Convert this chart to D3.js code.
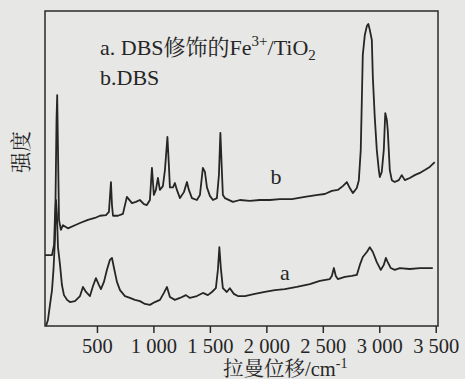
<!DOCTYPE html>
<html>
<head>
<meta charset="utf-8">
<script src="https://cdn.jsdelivr.net/npm/d3@7"></script>
<style>
  html, body { margin: 0; padding: 0; background: #e7e7e5; }
  svg { display: block; }
  text { font-family: "Liberation Serif", "Times New Roman", "Noto Serif CJK SC", serif; fill: #262626; }
</style>
</head>
<body>
<svg id="chart"></svg>
<script>
// Raman shift (cm-1) and intensity (a.u.)
const shiftB = [40, 102, 120, 133, 142, 148, 155, 164, 181, 199, 243, 305, 350, 420, 482, 527, 580, 606, 624, 633, 642, 686, 730, 765, 810, 845, 880, 916, 942, 969, 987, 1004, 1022, 1040, 1057, 1084, 1102, 1124, 1137, 1146, 1173, 1190, 1208, 1235, 1270, 1297, 1314, 1341, 1385, 1412, 1438, 1456, 1474, 1500, 1527, 1562, 1580, 1593, 1606, 1615, 1633, 1704, 1766, 1854, 1943, 2031, 2120, 2226, 2341, 2456, 2518, 2580, 2633, 2677, 2713, 2739, 2766, 2801, 2819, 2836, 2845, 2854, 2872, 2890, 2903, 2916, 2934, 2943, 2960, 2978, 2996, 3005, 3022, 3040, 3053, 3067, 3075, 3093, 3111, 3137, 3173, 3199, 3226, 3270, 3314, 3359, 3403, 3447, 3491];
const intensityB = [22.5, 22.5, 25.7, 40, 65.4, 73.3, 55.9, 33.7, 30.5, 32, 31, 32, 32.7, 33.7, 34.3, 35, 35.2, 36.2, 45.7, 38.4, 35, 35, 35.6, 41, 39, 39.4, 40, 38.7, 38.4, 40, 50.2, 41.6, 43.2, 47, 43.2, 44.4, 49.5, 60, 51, 44, 44, 45.4, 43.2, 40.6, 42.5, 45.7, 43.2, 40.6, 40, 41.6, 50.2, 48.9, 44, 41.3, 40, 40.6, 47.9, 61.3, 49.5, 41.6, 40.6, 39.4, 40, 39.7, 40, 40, 40.3, 40.3, 41, 41.6, 41.9, 42.9, 43.2, 44.4, 45.7, 43.8, 42.2, 43.8, 46.3, 55.9, 70.8, 86, 92.4, 95.2, 95.9, 94, 90.8, 79, 66.3, 55.9, 49.5, 47.3, 48.9, 55.9, 67.6, 65.4, 62.2, 49.5, 46.3, 45.7, 46.3, 47.9, 46.3, 47, 47.9, 48.6, 49.5, 50.5, 52];

const shiftA = [49, 66, 84, 102, 115, 128, 137, 146, 155, 173, 190, 208, 235, 261, 305, 350, 376, 403, 438, 465, 491, 518, 535, 562, 588, 615, 633, 651, 677, 704, 748, 792, 836, 881, 925, 969, 1013, 1058, 1093, 1120, 1146, 1190, 1235, 1288, 1323, 1385, 1438, 1482, 1518, 1553, 1571, 1584, 1597, 1615, 1650, 1677, 1712, 1748, 1810, 1898, 1987, 2075, 2164, 2270, 2385, 2474, 2562, 2580, 2598, 2615, 2633, 2695, 2757, 2801, 2828, 2854, 2890, 2916, 2943, 2978, 3013, 3040, 3058, 3075, 3102, 3137, 3182, 3270, 3359, 3474];
const intensityA = [0, 1.9, 6.7, 11.4, 17.8, 27.3, 40, 35.2, 25, 19.4, 13, 9.8, 8.3, 7.6, 7.9, 9.5, 12.4, 10.8, 9.5, 12.7, 15.2, 13, 11.7, 14, 17.8, 21, 21.6, 18.4, 14, 11.4, 9.5, 8.9, 8.3, 7.9, 7, 6.7, 7.6, 8.3, 10.5, 12.4, 9.2, 8.3, 8.9, 9.8, 8.9, 9.5, 10.5, 9.8, 10.8, 12, 17.8, 25, 18.4, 12, 10.8, 12, 10.2, 9.5, 9.5, 10.2, 10.8, 11.4, 11.7, 12.4, 13.3, 14.3, 14.9, 15.9, 18.4, 15.9, 14.9, 15.6, 15.9, 16.2, 19.4, 21.9, 23.5, 25, 23.5, 20.3, 17.8, 19.4, 21.6, 20.3, 18.4, 17.8, 18.4, 18.1, 18.4, 18.4];

const tickValues = [500, 1000, 1500, 2000, 2500, 3000, 3500];
const tickLabels = ["500", "1 000", "1 500", "2 000", "2 500", "3 000", "3 500"];

const width = 465, height = 379;
const margin = {top: 11, right: 27, bottom: 53, left: 45};

const svg = d3.select('#chart')
    .attr("width", width)
    .attr("height", height);

const x = d3.scaleLinear()
    .domain([40, 3520])
    .range([margin.left, width - margin.right]);

const y = d3.scaleLinear()
    .domain([0, 100])
    .range([height - margin.bottom, margin.top]);

const xAxis = g => g
    .attr("transform", `translate(0,${height - margin.bottom})`)
    .call(d3.axisBottom(x)
        .tickValues(tickValues)
        .tickFormat((d, i) => tickLabels[i])
        .tickSize(7)
        .tickPadding(5))
    .call(g => g.select(".domain").remove())
    .call(g => g.selectAll(".tick line").attr("stroke", "#2b2b2b").attr("stroke-width", 1.5))
    .call(g => g.selectAll(".tick text")
        .attr("font-size", 20.5)
        .attr("fill", "#262626"));

svg.append("g").call(xAxis)
    .attr("font-family", null);

// frame
svg.append("rect")
    .attr("x", margin.left)
    .attr("y", margin.top)
    .attr("width", width - margin.left - margin.right)
    .attr("height", height - margin.top - margin.bottom)
    .attr("fill", "none")
    .attr("stroke", "#2b2b2b")
    .attr("stroke-width", 1.5);

const line = d3.line()
    .x(d => x(d[0]))
    .y(d => y(d[1]));

[[shiftA, intensityA], [shiftB, intensityB]].forEach(([xs, ys]) => {
    svg.append("path")
        .datum(d3.zip(xs, ys))
        .attr("fill", "none")
        .attr("stroke", "#262626")
        .attr("stroke-width", 1.8)
        .attr("stroke-linejoin", "round")
        .attr("d", line);
});

// legend
const leg = svg.append("text")
    .attr("x", 100)
    .attr("y", 55)
    .attr("font-size", 22);
leg.append("tspan").text("a. DBS修饰的Fe");
leg.append("tspan").attr("dy", -9).attr("font-size", 15).text("3+");
leg.append("tspan").attr("dy", 9).text("/TiO");
leg.append("tspan").attr("dy", 5).attr("font-size", 15).text("2");

svg.append("text")
    .attr("x", 100)
    .attr("y", 85)
    .attr("font-size", 22)
    .text("b.DBS");

// curve labels
svg.append("text").attr("x", 276).attr("y", 184)
    .attr("text-anchor", "middle").attr("font-size", 22).text("b");
svg.append("text").attr("x", 285).attr("y", 280)
    .attr("text-anchor", "middle").attr("font-size", 22).text("a");

// axis titles
const xt = svg.append("text")
    .attr("x", 223)
    .attr("y", 376)
    .attr("font-size", 20.5);
xt.append("tspan").text("拉曼位移/cm");
xt.append("tspan").attr("dy", -8).attr("font-size", 14).text("-1");

svg.append("text")
    .attr("transform", "translate(28,152) rotate(-90)")
    .attr("text-anchor", "middle")
    .attr("font-size", 21)
    .text("强度");
</script>
</body>
</html>
